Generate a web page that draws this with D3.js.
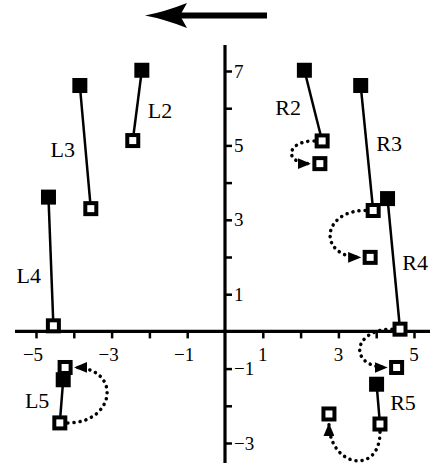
<!DOCTYPE html>
<html>
<head>
<meta charset="utf-8">
<script src="https://cdn.jsdelivr.net/npm/d3@7"></script>
<style>
  body { margin: 0; background: #fff; }
  svg { display: block; font-family: "Liberation Serif", "DejaVu Serif", serif; }
</style>
</head>
<body>
<svg id="chart" width="430" height="463"></svg>
<script>
// tracked points: start (filled), first end (open), later end (open, after dotted arrow)
var names  = ["L2", "L3", "L4", "L5", "R2", "R3", "R4", "R5"];
var startX = [-2.20, -3.84, -4.67, -4.28, 2.10, 3.59, 4.30, 4.01];
var startY = [ 7.02,  6.61,  3.61, -1.30, 7.02, 6.61, 3.57, -1.42];
var endX   = [-2.44, -3.55, -4.54, -4.37, 2.57, 3.92, 4.63, 4.10];
var endY   = [ 5.13,  3.30,  0.15, -2.46, 5.12, 3.25, 0.06, -2.49];
var moveX  = [null, null, null, -4.23, 2.51, 3.84, 4.54, 2.75];
var moveY  = [null, null, null, -0.97, 4.51, 1.99, -0.97, -2.22];
var labelX = [-1.72, -4.29, -5.19, -4.97, 1.67, 4.34, 5.03, 4.71];
var labelY = [ 5.94,  4.89,  1.51, -1.85, 6.02, 5.05, 1.85, -1.91];

var xTicks = [-5, -4, -3, -2, -1, 1, 2, 3, 4, 5];
var yTicks = [-3, -2, -1, 1, 2, 3, 4, 5, 6, 7];
var xTickLabels = [-5, -3, -1, 1, 3, 5];
var yTickLabels = [-3, -1, 1, 3, 5, 7];

// which way each dotted arrow bows, and how far
var bend = { L5: ["right", 48], R2: ["left", 28], R3: ["left", 44], R4: ["left", 40], R5: ["down", 44] };

var svg = d3.select("#chart");

var x = d3.scaleLinear().domain([-5, 5]).range([36, 414]);
var y = d3.scaleLinear().domain([-3, 7]).range([443, 71]);

var minus = function(v) { return v < 0 ? "\u2212" + Math.abs(v) : "" + v; };

var defs = svg.append("defs");
defs.append("marker")
    .attr("id", "head")
    .attr("viewBox", "0 0 12 10")
    .attr("refX", 12).attr("refY", 5)
    .attr("markerUnits", "userSpaceOnUse")
    .attr("markerWidth", 13).attr("markerHeight", 11)
    .attr("orient", "auto")
  .append("path")
    .attr("d", "M0,0L12,5L0,10Z")
    .attr("fill", "#000");

// axes
var xAxis = svg.append("g")
    .attr("transform", "translate(0," + y(0) + ")")
    .call(d3.axisBottom(x).tickValues(xTicks).tickSize(7).tickSizeOuter(0).tickFormat(""));
xAxis.select(".domain").remove();
xAxis.selectAll(".tick line").attr("stroke-width", 2.5);
xAxis.append("line")
    .attr("x1", 15).attr("x2", 430)
    .attr("stroke", "#000").attr("stroke-width", 3.2);

var yAxis = svg.append("g")
    .attr("transform", "translate(" + x(0) + ",0)")
    .call(d3.axisRight(y).tickValues(yTicks).tickSize(7).tickSizeOuter(0).tickFormat(""));
yAxis.select(".domain").remove();
yAxis.selectAll(".tick line").attr("stroke-width", 2.5);
yAxis.append("line")
    .attr("y1", 45).attr("y2", 463)
    .attr("stroke", "#000").attr("stroke-width", 3.2);

svg.append("g").selectAll("text")
  .data(xTickLabels)
  .enter().append("text")
    .attr("x", function(d) { return x(d) - (d < 0 ? 3 : 0); })
    .attr("y", y(0) + 30)
    .attr("text-anchor", "middle")
    .attr("font-size", 19)
    .text(minus);

svg.append("g").selectAll("text")
  .data(yTickLabels)
  .enter().append("text")
    .attr("x", x(0) + 9)
    .attr("y", function(d) { return y(d); })
    .attr("dy", "0.35em")
    .attr("font-size", 19)
    .text(minus);

// direction arrow at the top
svg.append("path")
    .attr("d", "M145,15.5Q164,12 187,3L180,15.5L187,28Q164,19 145,15.5Z")
    .attr("fill", "#000");
svg.append("rect")
    .attr("x", 178).attr("y", 12.5).attr("width", 89).attr("height", 6)
    .attr("fill", "#000");

var rows = names.map(function(n, i) {
  return { name: n, sx: startX[i], sy: startY[i], ex: endX[i], ey: endY[i],
           mx: moveX[i], my: moveY[i], lx: labelX[i], ly: labelY[i] };
});

// solid connectors
svg.append("g").selectAll("line")
  .data(rows)
  .enter().append("line")
    .attr("x1", function(d) { return x(d.sx); })
    .attr("y1", function(d) { return y(d.sy); })
    .attr("x2", function(d) { return x(d.ex); })
    .attr("y2", function(d) { return y(d.ey); })
    .attr("stroke", "#000").attr("stroke-width", 2.5);

// dotted curved arrows
var dirs = { left: [-1, 0], right: [1, 0], down: [0, 1] };
svg.append("g").selectAll("path")
  .data(rows.filter(function(d) { return d.mx != null; }))
  .enter().append("path")
    .attr("d", function(d) {
      var b = bend[d.name], n = dirs[b[0]], h = b[1];
      var s = [x(d.ex) + n[0] * 8, y(d.ey) + n[1] * 8];
      var e = [x(d.mx) + n[0] * 9, y(d.my) + n[1] * 9];
      var p = d3.path();
      p.moveTo(s[0], s[1]);
      p.bezierCurveTo(s[0] + n[0] * h, s[1] + n[1] * h, e[0] + n[0] * h, e[1] + n[1] * h, e[0], e[1]);
      return p.toString();
    })
    .attr("fill", "none")
    .attr("stroke", "#000")
    .attr("stroke-width", 3.5)
    .attr("stroke-linecap", "round")
    .attr("stroke-dasharray", "0.1 6")
    .attr("marker-end", "url(#head)");

// squares
svg.append("g").selectAll("rect")
  .data(rows)
  .enter().append("rect")
    .attr("x", function(d) { return x(d.sx) - 7.5; })
    .attr("y", function(d) { return y(d.sy) - 7.5; })
    .attr("width", 15).attr("height", 15)
    .attr("fill", "#000");

var opens = [];
rows.forEach(function(d) {
  opens.push([d.ex, d.ey]);
  if (d.mx != null) opens.push([d.mx, d.my]);
});
svg.append("g").selectAll("rect")
  .data(opens)
  .enter().append("rect")
    .attr("x", function(d) { return x(d[0]) - 5.5; })
    .attr("y", function(d) { return y(d[1]) - 5.5; })
    .attr("width", 11).attr("height", 11)
    .attr("fill", "#fff")
    .attr("stroke", "#000").attr("stroke-width", 4);

// labels
svg.append("g").selectAll("text")
  .data(rows)
  .enter().append("text")
    .attr("x", function(d) { return x(d.lx); })
    .attr("y", function(d) { return y(d.ly); })
    .attr("dy", "0.35em")
    .attr("text-anchor", "middle")
    .attr("font-size", 22)
    .text(function(d) { return d.name; });
</script>
</body>
</html>
